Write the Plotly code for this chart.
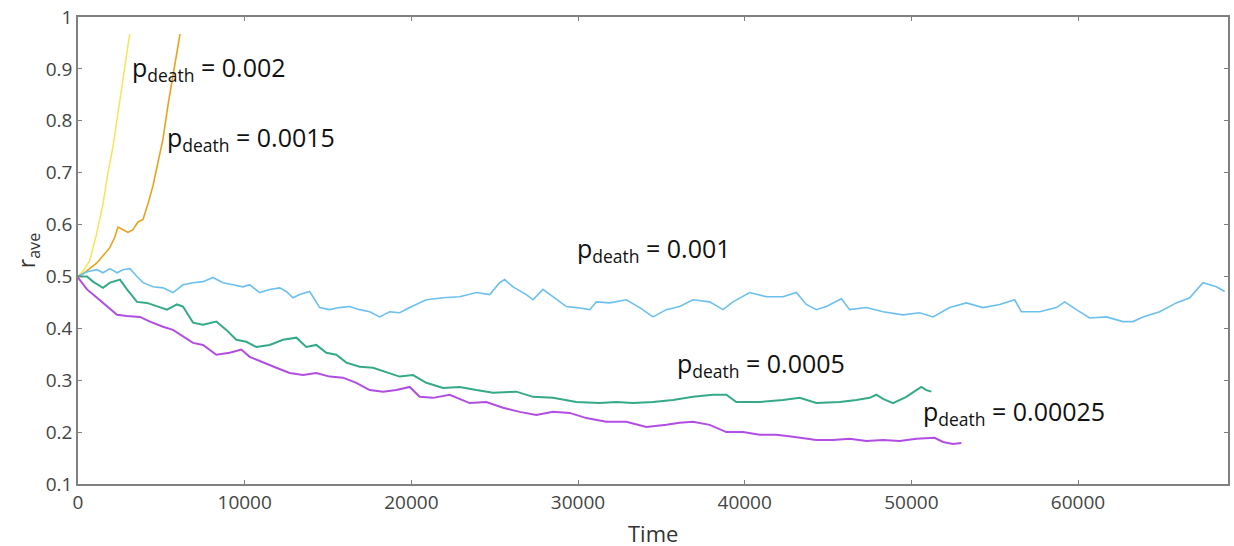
import plotly.graph_objects as go

# p_death = 0.002 (yellow)
t_002 = [0, 300, 700, 1100, 1500, 1800, 2100, 2500, 2800, 3100]
r_002 = [0.50, 0.51, 0.53, 0.58, 0.64, 0.70, 0.75, 0.84, 0.90, 0.967]

# p_death = 0.0015 (orange)
t_0015 = [0, 300, 700, 1100, 1500, 1900, 2200, 2400, 2700, 3000, 3300, 3600, 3900, 4200,
          4500, 4800, 5100, 5400, 5700, 5950, 6120]
r_0015 = [0.50, 0.505, 0.515, 0.525, 0.54, 0.555, 0.575, 0.595, 0.59, 0.585, 0.59, 0.605,
          0.61, 0.64, 0.675, 0.72, 0.765, 0.83, 0.885, 0.935, 0.967]

# p_death = 0.001 (blue)
t_001 = [0, 540, 1140, 1500, 1920, 2340, 2700, 3120, 3540, 3900, 4500, 5100, 5700, 6300,
         6900, 7500, 8100, 8700, 9300, 9900, 10300, 10900, 11500, 12100, 12500, 12900,
         13300, 13900, 14500, 15100, 15700, 16300, 16900, 17500, 18100, 18700, 19300,
         19900, 20900, 21900, 22900, 23900, 24700, 25300, 25600, 26100, 26900, 27300,
         27900, 28500, 29300, 29900, 30700, 31100, 31900, 32900, 33700, 34500, 35300,
         36100, 36900, 37900, 38700, 39300, 40300, 41300, 42300, 43100, 43700, 44300,
         44900, 45800, 46300, 47300, 48300, 49500, 50500, 51300, 52300, 53300, 54300,
         55300, 56200, 56600, 57700, 58700, 59200, 59900, 60700, 61700, 62700, 63300,
         63900, 64900, 65900, 66700, 67500, 68300, 68800]
r_001 = [0.50, 0.509, 0.513, 0.507, 0.515, 0.507, 0.513, 0.515, 0.50, 0.488, 0.48, 0.478,
         0.469, 0.484, 0.488, 0.49, 0.498, 0.488, 0.484, 0.48, 0.484, 0.469, 0.475, 0.478,
         0.471, 0.459, 0.465, 0.471, 0.44, 0.436, 0.44, 0.442, 0.436, 0.432, 0.422, 0.432,
         0.43, 0.44, 0.455, 0.459, 0.461, 0.469, 0.465, 0.488, 0.494, 0.48, 0.465, 0.455,
         0.475, 0.461, 0.442, 0.44, 0.436, 0.451, 0.449, 0.455, 0.44, 0.422, 0.436, 0.442,
         0.455, 0.451, 0.436, 0.451, 0.469, 0.461, 0.461, 0.469, 0.446, 0.436, 0.442,
         0.457, 0.436, 0.44, 0.432, 0.426, 0.43, 0.422, 0.44, 0.449, 0.44, 0.446, 0.455,
         0.432, 0.432, 0.44, 0.451, 0.436, 0.42, 0.422, 0.413, 0.413, 0.422, 0.432, 0.449,
         0.459, 0.488, 0.48, 0.471]

# p_death = 0.0005 (green)
t_0005 = [0, 540, 900, 1500, 1920, 2520, 2940, 3540, 4140, 4740, 5340, 5940, 6300, 6900,
          7500, 8300, 8900, 9500, 10100, 10700, 11500, 12300, 13100, 13700, 14300, 14900,
          15500, 16100, 16900, 17700, 18500, 19300, 20100, 20900, 21900, 22900, 23900,
          24900, 26300, 27300, 28500, 29900, 31300, 32300, 33300, 34500, 35700, 36900,
          38100, 38900, 39500, 40900, 42300, 43300, 44300, 45700, 46700, 47500, 47900,
          48300, 48900, 49700, 50300, 50600, 50900, 51200]
r_0005 = [0.50, 0.50, 0.49, 0.478, 0.488, 0.494, 0.475, 0.451, 0.449, 0.442, 0.436, 0.446,
          0.442, 0.411, 0.407, 0.413, 0.397, 0.378, 0.374, 0.364, 0.368, 0.378, 0.382,
          0.364, 0.368, 0.353, 0.349, 0.334, 0.326, 0.324, 0.316, 0.307, 0.31, 0.295,
          0.285, 0.287, 0.281, 0.276, 0.278, 0.268, 0.266, 0.258, 0.256, 0.258, 0.256,
          0.258, 0.262, 0.268, 0.272, 0.272, 0.258, 0.258, 0.262, 0.266, 0.256, 0.258,
          0.262, 0.266, 0.272, 0.264, 0.256, 0.268, 0.281, 0.287, 0.281, 0.278]

# p_death = 0.00025 (purple)
t_00025 = [0, 540, 1140, 1740, 2340, 2940, 3720, 4320, 5100, 5700, 6300, 6900, 7500, 8300,
           9100, 9800, 10300, 11100, 11900, 12700, 13500, 14300, 15100, 15900, 16700,
           17500, 18300, 19100, 19900, 20500, 21300, 22300, 23500, 24500, 25500, 26500,
           27500, 28500, 29500, 30500, 31700, 32900, 34100, 35300, 36100, 36900, 37900,
           38900, 39900, 40900, 41900, 42900, 44300, 45300, 46300, 47300, 48300, 49300,
           50300, 51400, 51900, 52500, 53000]
r_00025 = [0.498, 0.475, 0.459, 0.442, 0.426, 0.424, 0.422, 0.413, 0.403, 0.397, 0.384,
           0.372, 0.368, 0.349, 0.353, 0.359, 0.345, 0.334, 0.324, 0.314, 0.31, 0.314,
           0.307, 0.305, 0.295, 0.281, 0.278, 0.281, 0.287, 0.268, 0.266, 0.272, 0.256,
           0.258, 0.247, 0.239, 0.233, 0.239, 0.237, 0.227, 0.22, 0.22, 0.21, 0.214,
           0.218, 0.22, 0.214, 0.2, 0.2, 0.195, 0.195, 0.191, 0.185, 0.185, 0.187, 0.183,
           0.185, 0.183, 0.187, 0.189, 0.181, 0.177, 0.179]

labels = ["0.002", "0.0015", "0.001", "0.0005", "0.00025"]
label_x = [3100, 5200, 29800, 35800, 50600]
label_y = [0.90, 0.765, 0.552, 0.33, 0.237]

x_ticks = [0, 10000, 20000, 30000, 40000, 50000, 60000]
y_ticks = [0.1, 0.2, 0.3, 0.4, 0.5, 0.6, 0.7, 0.8, 0.9, 1]
y_tick_text = ["0.1", "0.2", "0.3", "0.4", "0.5", "0.6", "0.7", "0.8", "0.9", "1"]

series = [
    (t_002, r_002, "#F5E45C", 1.5),
    (t_0015, r_0015, "#E9A21C", 1.6),
    (t_001, r_001, "#6CC0EE", 1.6),
    (t_0005, r_0005, "#35AA88", 2.0),
    (t_00025, r_00025, "#B24DE3", 2.0),
]

fig = go.Figure()
for t, r, c, w in series:
    fig.add_trace(go.Scatter(x=t, y=r, mode="lines", line=dict(color=c, width=w),
                             showlegend=False, hoverinfo="skip"))

for lab, lx, ly in zip(labels, label_x, label_y):
    fig.add_annotation(x=lx, y=ly, xref="x", yref="y", xanchor="left", yanchor="middle",
                       text="p<sub>death</sub> = " + lab, showarrow=False,
                       font=dict(family="Open Sans", size=25, color="#111111"))

# x-axis title placed as paper annotation to control vertical position
fig.add_annotation(x=0.5, y=-0.104, xref="paper", yref="paper", xanchor="center",
                   yanchor="middle", text="Time", showarrow=False,
                   font=dict(family="Open Sans", size=22, color="#333333"))

axis_common = dict(showline=True, linecolor="#808080", linewidth=1.5, mirror="ticks",
                   ticks="inside", ticklen=4, tickcolor="#808080", showgrid=False,
                   zeroline=False, automargin=False,
                   tickfont=dict(family="Open Sans", size=19, color="#444444"))

fig.update_xaxes(range=[0, 69000], tickvals=x_ticks, ticktext=[str(v) for v in x_ticks],
                 **axis_common)
fig.update_yaxes(range=[0.1, 1.0], tickvals=y_ticks, ticktext=y_tick_text,
                 title=dict(text="r<sub>ave</sub>", font=dict(family="Open Sans", size=23, color="#333333"),
                            standoff=4),
                 **axis_common)

fig.update_layout(width=1234, height=546, margin=dict(l=78, r=6, t=17, b=62),
                  plot_bgcolor="white", paper_bgcolor="white")

fig.write_html("out.html")
